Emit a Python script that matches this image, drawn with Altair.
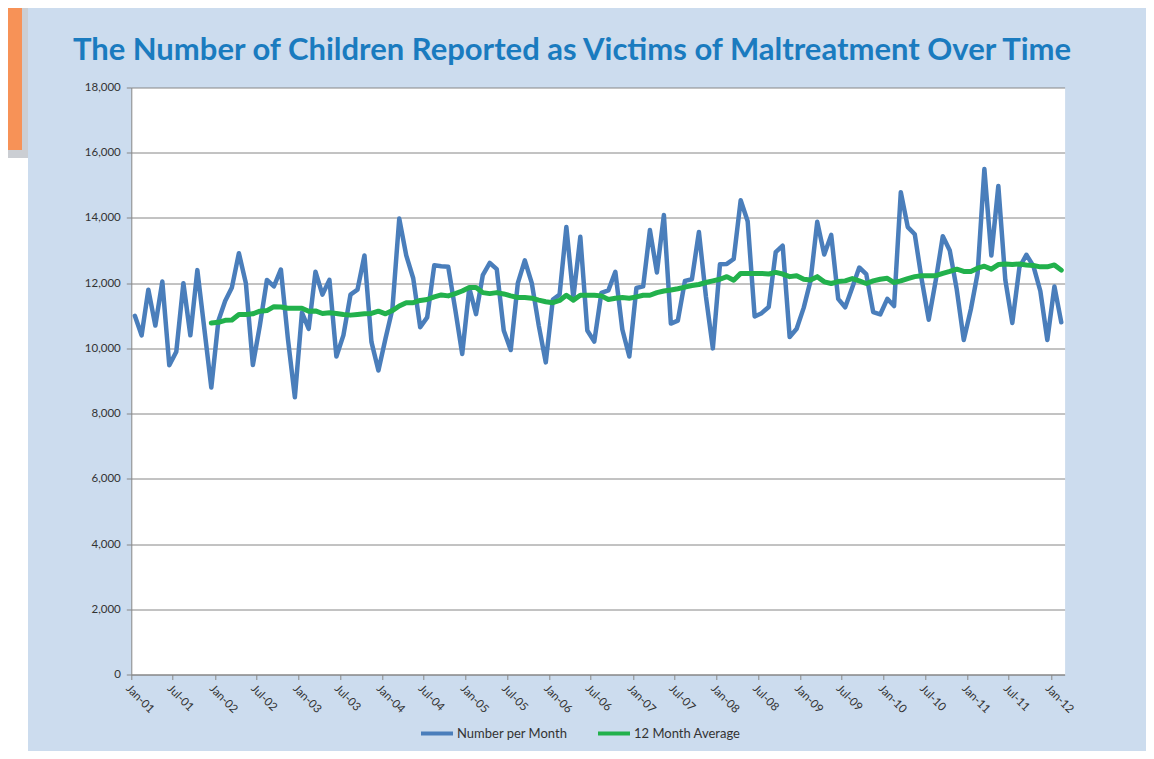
import altair as alt
import pandas as pd

# ---------------- data ----------------
start_month = "2001-01-01"
n_months = 134  # Jan-01 .. Feb-12

number_per_month = [
    11000, 10400, 11800, 10700, 12050, 9480, 9900, 12000, 10400, 12400, 10600, 8800,
    10850, 11450, 11870, 12920, 12000, 9490, 10700, 12100, 11900, 12420, 10300, 8500,
    11100, 10600, 12350, 11650, 12100, 9750, 10400, 11650, 11800, 12850, 10200, 9320,
    10300, 11200, 13980, 12850, 12150, 10650, 10950, 12550, 12520, 12500, 11200, 9830,
    11850, 11050, 12250, 12620, 12430, 10550, 9950, 12000, 12700, 12000, 10700, 9570,
    11500, 11650, 13720, 11550, 13420, 10550, 10210, 11700, 11780, 12350, 10580, 9750,
    11850, 11900, 13630, 12330, 14090, 10760, 10850, 12070, 12120, 13570, 11600, 10000,
    12580, 12590, 12740, 14540, 13900, 10980, 11080, 11270, 12950, 13150, 10350, 10600,
    11250, 12070, 13880, 12880, 13480, 11520, 11260, 11870, 12480, 12280, 11110, 11040,
    11520, 11300, 14790, 13720, 13500, 12100, 10880, 12100, 13440, 13000, 11800, 10260,
    11200, 12300, 15500, 12850, 14980, 12100, 10780, 12480, 12870, 12530, 11760, 10260,
    11900, 10800,
]

avg_start_index = 11  # first 12-month average is at Dec-01
twelve_month_avg = [
    10780,
    10800, 10860, 10870, 11040, 11040, 11060, 11140, 11160, 11280, 11270, 11230, 11230,
    11230, 11140, 11150, 11070, 11090, 11070, 11040, 11020, 11040, 11060, 11070, 11140,
    11060, 11160, 11300, 11400, 11400, 11470, 11500, 11580, 11640, 11610, 11680, 11760,
    11870, 11870, 11710, 11680, 11710, 11670, 11610, 11560, 11560, 11540, 11480, 11430,
    11400, 11470, 11630, 11480, 11630, 11630, 11630, 11610, 11500, 11540, 11560, 11540,
    11580, 11630, 11630, 11710, 11760, 11790, 11830, 11880, 11930, 11960, 12020, 12070,
    12120, 12200, 12090, 12300, 12300, 12300, 12300, 12280, 12330, 12280, 12200, 12230,
    12120, 12100, 12200, 12040, 11990, 12050, 12070, 12140, 12070, 11990, 12070, 12120,
    12150, 12020, 12070, 12140, 12200, 12230, 12230, 12230, 12300, 12360, 12430, 12360,
    12360, 12460, 12520, 12430, 12570, 12590, 12570, 12590, 12560, 12540, 12500, 12500,
    12560, 12400,
]

title_text = "The Number of Children Reported as Victims of Maltreatment Over Time"
series_names = ["Number per Month", "12 Month Average"]
series_colors = ["#4A7EBB", "#22B14C"]
y_ticks = [0, 2000, 4000, 6000, 8000, 10000, 12000, 14000, 16000, 18000]
x_tick_years = list(range(2001, 2013))

# month slots, each point at the centre of its month
starts = pd.date_range(start_month, periods=n_months + 1, freq="MS")
mids = starts[:-1] + (starts[1:] - starts[:-1]) / 2
dates = [d.strftime("%Y-%m-%dT%H:%M:%S") for d in mids]

df_blue = pd.DataFrame({"date": dates, "value": number_per_month, "series": series_names[0]})
df_green = pd.DataFrame({
    "date": dates[avg_start_index:avg_start_index + len(twelve_month_avg)],
    "value": twelve_month_avg,
    "series": series_names[1],
})

tick_values = []
for yr in x_tick_years:
    tick_values.append(alt.DateTime(year=yr, month=1, date=1, utc=True))
    if yr < 2012:
        tick_values.append(alt.DateTime(year=yr, month=7, date=1, utc=True))

# ---------------- layout ----------------
PAD_L, PAD_T = 123.3, 79.5
W, H = 933.3, 587
CANVAS_W, CANVAS_H = 1138, 743
PAD_R = CANVAS_W - PAD_L - W
PAD_B = CANVAS_H - PAD_T - H

LABEL_FONT = "Lato"
TITLE_FONT = "Lato"

x_enc = alt.X(
    "date:T",
    scale=alt.Scale(
        type="utc",
        domain=[alt.DateTime(year=2001, month=1, date=1, utc=True),
                alt.DateTime(year=2012, month=3, date=1, utc=True)],
    ),
    axis=alt.Axis(
        values=tick_values, labelExpr="utcFormat(datum.value, '%b-%y')",
        labelAngle=45, labelAlign="left", labelBaseline="top", labelPadding=3,
        tickSize=5, tickColor="#868686", domainColor="#868686", grid=False,
        labelFont=LABEL_FONT, labelFontSize=11.5, labelColor="#333333",
        labelOverlap=False, labelFlush=False, title=None,
    ),
)
y_enc = alt.Y(
    "value:Q",
    scale=alt.Scale(domain=[0, 18000], nice=False),
    axis=alt.Axis(
        values=y_ticks, labelExpr="format(datum.value, ',')", tickSize=5,
        tickColor="#868686", domainColor="#868686", gridColor="#868686", gridWidth=1,
        labelFont=LABEL_FONT, labelFontSize=11.5, labelColor="#333333",
        labelPadding=6, title=None,
    ),
)
color_enc = alt.Color(
    "series:N",
    scale=alt.Scale(domain=series_names, range=series_colors),
    legend=alt.Legend(
        title=None, orient="none", direction="horizontal",
        legendX=287.7, legendY=628, symbolType="stroke", symbolSize=1024,
        symbolStrokeWidth=4, labelFont=LABEL_FONT, labelFontSize=13,
        labelColor="#333333", labelOffset=2, columnPadding=22, padding=0,
    ),
)

blue = alt.Chart(df_blue).mark_line(
    strokeWidth=4.5, strokeJoin="round", strokeCap="round"
).encode(x=x_enc, y=y_enc, color=color_enc)

green = alt.Chart(df_green).mark_line(
    strokeWidth=5, strokeJoin="round", strokeCap="round"
).encode(x=x_enc, y=y_enc, color=color_enc)

# decorative page elements (white strip, orange tab with shadow) and title text
deco_df = pd.DataFrame({"k": [0]})
white_strip = alt.Chart(deco_df).mark_rect(color="white").encode(
    x=alt.value(-PAD_L), x2=alt.value(-PAD_L + 20),
    y=alt.value(-PAD_T), y2=alt.value(CANVAS_H - PAD_T),
)
shadow = alt.Chart(deco_df).mark_rect(color="#A9AEB5", opacity=0.6).encode(
    x=alt.value(-PAD_L), x2=alt.value(-PAD_L + 20),
    y=alt.value(-PAD_T), y2=alt.value(-PAD_T + 150),
)
orange_tab = alt.Chart(deco_df).mark_rect(color="#F79257").encode(
    x=alt.value(-PAD_L), x2=alt.value(-PAD_L + 14),
    y=alt.value(-PAD_T), y2=alt.value(-PAD_T + 142),
)
title_df = pd.DataFrame({"t": [title_text]})
title = alt.Chart(title_df).mark_text(
    font=TITLE_FONT, fontSize=31, fontWeight="bold", color="#1A7BBF",
    align="center", baseline="alphabetic",
).encode(
    text="t:N",
    x=alt.value(572 - 8 - PAD_L),
    y=alt.value(60 - 8 - PAD_T),
)

chart = alt.layer(white_strip, shadow, orange_tab, title, blue, green).properties(
    width=W, height=H,
    autosize=alt.AutoSizeParams(type="none"),
    padding={"left": PAD_L, "top": PAD_T, "right": PAD_R, "bottom": PAD_B},
    background="#CCDCEE",
).configure_view(fill="white", stroke="transparent")

chart.save("out.html", embed_options={"renderer": "svg", "actions": False})
